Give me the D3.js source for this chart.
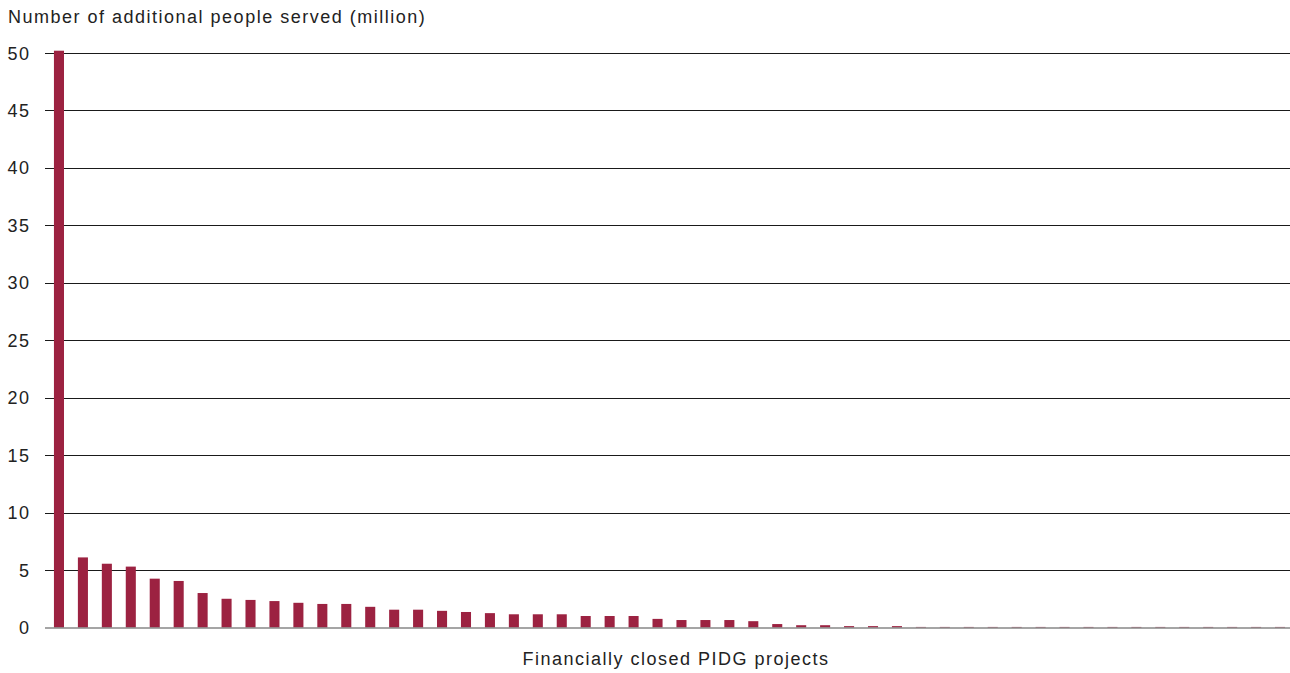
<!DOCTYPE html>
<html>
<head>
<meta charset="utf-8">
<script src="https://cdn.jsdelivr.net/npm/d3@7"></script>
<style>
  html, body { margin: 0; padding: 0; background: #fff; }
  svg { display: block; }
  text { font-family: "Liberation Sans", Arial, Helvetica, sans-serif; fill: #222; }
</style>
</head>
<body>
<svg id="chart" width="1290" height="673"></svg>
<script>
// ---- Data ----
const values = [
  50.2, 6.1, 5.55, 5.3, 4.25, 4.05, 3.0, 2.5, 2.4, 2.3,
  2.15, 2.05, 2.05, 1.8, 1.55, 1.55, 1.45, 1.35, 1.25, 1.15,
  1.15, 1.15, 1.0, 1.0, 1.0, 0.75, 0.65, 0.65, 0.65, 0.55,
  0.3, 0.2, 0.2, 0.12, 0.12, 0.12, 0.05, 0.05, 0.05, 0.05,
  0.05, 0.05, 0.05, 0.05, 0.05, 0.05, 0.05, 0.05, 0.05, 0.05,
  0.05, 0.05
];
const categories = values.map((v, i) => "Project " + (i + 1));
const yTicks = [0, 5, 10, 15, 20, 25, 30, 35, 40, 45, 50];
const yTitle = "Number of additional people served (million)";
const xTitle = "Financially closed PIDG projects";

// ---- Chart ----
const svg = d3.select("#chart");
const gridLeft = 45, gridRight = 1290;

const x = d3.scaleBand()
  .domain(categories)
  .range([47, 1292])
  .paddingInner(0.58)
  .paddingOuter(0.29);

const y = d3.scaleLinear()
  .domain([0, 50])
  .range([627.5, 53]);

// gridlines
svg.append("g")
  .selectAll("line")
  .data(yTicks.filter(t => t !== 0))
  .join("line")
  .attr("x1", gridLeft)
  .attr("x2", gridRight)
  .attr("y1", d => Math.round(y(d)) + 0.5)
  .attr("y2", d => Math.round(y(d)) + 0.5)
  .attr("stroke", "#1a1a1a")
  .attr("stroke-width", 1);

// bars
svg.append("g")
  .selectAll("rect")
  .data(values.map((v, i) => ({ c: categories[i], v })))
  .join("rect")
  .attr("x", d => x(d.c))
  .attr("width", x.bandwidth())
  .attr("y", d => y(d.v))
  .attr("height", d => y(0) - y(d.v))
  .attr("fill", "#9c2241");

// baseline
svg.append("line")
  .attr("x1", gridLeft)
  .attr("x2", gridRight)
  .attr("y1", y(0) + 0.5)
  .attr("y2", y(0) + 0.5)
  .attr("stroke", "#7a7a7a")
  .attr("stroke-width", 1.6)
  .attr("stroke-opacity", 0.9);

// y tick labels
svg.append("g")
  .selectAll("text")
  .data(yTicks)
  .join("text")
  .attr("x", 30.5)
  .attr("y", d => y(d) + 6.5)
  .attr("text-anchor", "end")
  .attr("font-size", 18)
  .attr("letter-spacing", 1.5)
  .text(d => d);

// titles
svg.append("text")
  .attr("x", 8)
  .attr("y", 23)
  .attr("font-size", 18)
  .attr("letter-spacing", 1.5)
  .text(yTitle);

svg.append("text")
  .attr("x", 676)
  .attr("y", 665)
  .attr("text-anchor", "middle")
  .attr("font-size", 18)
  .attr("letter-spacing", 1.5)
  .text(xTitle);
</script>
</body>
</html>
